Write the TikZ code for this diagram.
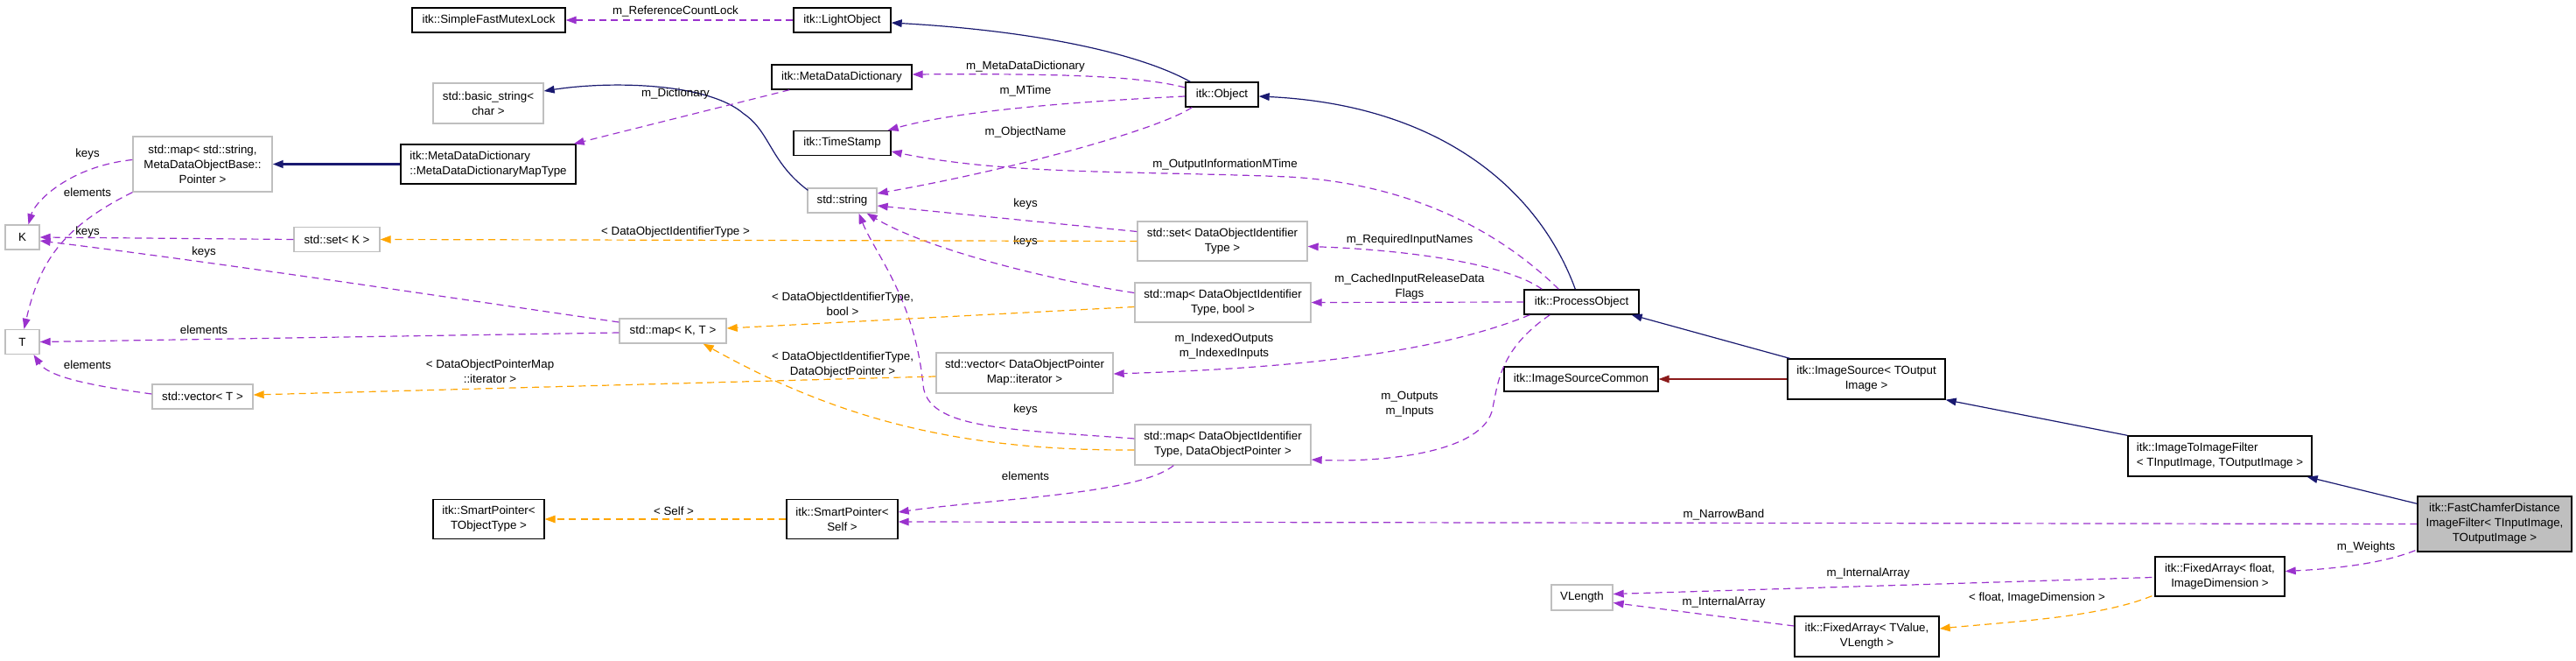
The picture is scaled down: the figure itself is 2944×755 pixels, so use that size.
\documentclass[tikz,border=0pt]{standalone}
\usepackage{fontspec}
\setmainfont{Liberation Sans}
\usetikzlibrary{arrows.meta,calc}
\definecolor{navy}{RGB}{25,25,112}
\definecolor{dred}{RGB}{139,26,26}
\definecolor{purp}{RGB}{154,50,205}
\definecolor{orng}{RGB}{255,165,0}
\definecolor{gbord}{RGB}{191,191,191}
\definecolor{gfill}{RGB}{191,191,191}
\begin{document}
\begin{tikzpicture}[x=0.75pt,y=-0.75pt,
  font=\fontsize{10pt}{12.75pt}\selectfont,
  cls/.style={draw=black, line width=1pt, fill=white, inner sep=0pt, align=center},
  ucls/.style={draw=gbord, line width=1pt, fill=white, inner sep=0pt, align=center},
  sz/.style 2 args={minimum width=#1*0.75pt, minimum height=#2*0.75pt},
  tip/.style={-{Triangle[length=9pt,width=6.5pt]}},
  inh/.style={draw=navy, line width=0.9pt, tip},
  prot/.style={draw=dred, line width=0.9pt, tip},
  use/.style={draw=purp, line width=0.9pt, dash pattern=on 6pt off 4pt, tip},
  tmpl/.style={draw=orng, line width=0.9pt, dash pattern=on 6pt off 4pt, tip},
  lbl/.style={inner sep=0pt, align=center}]
\useasboundingbox (0,0) rectangle (2944,755);

% ---------- nodes ----------
\node[cls,sz={175}{28}] (fml) at (558.5,23) {itk::SimpleFastMutexLock};
\node[cls,sz={111}{28}] (lo) at (962.5,23) {itk::LightObject};
\node[cls,sz={160}{28}] (mdd) at (962,88) {itk::MetaDataDictionary};
\node[ucls,sz={126}{46}] (bstr) at (558,118) {std::basic\_string<\\char >};
\node[cls,sz={111}{28}] (ts) at (962.5,163.5) {itk::TimeStamp};
\node[cls,sz={83}{28}] (obj) at (1396.5,108) {itk::Object};
\node[ucls,sz={159}{63}] (mapstr) at (231.5,187.5) {std::map< std::string,\\MetaDataObjectBase::\\Pointer >};
\node[cls,sz={200}{45},align=left] (mapty) at (558,187.5) {itk::MetaDataDictionary\\::MetaDataDictionaryMapType};
\node[ucls,sz={79}{28}] (str) at (962.5,229) {std::string};
\node[ucls,sz={39}{28}] (K) at (25.5,271) {K};
\node[ucls,sz={98}{28}] (setK) at (385,273.5) {std::set< K >};
\node[ucls,sz={39}{28}] (T) at (25.5,390.5) {T};
\node[ucls,sz={122}{28}] (mapKT) at (769,378) {std::map< K, T >};
\node[ucls,sz={115}{28}] (vecT) at (231.5,453) {std::vector< T >};
\node[cls,sz={127}{45}] (spT) at (558.5,593) {itk::SmartPointer<\\TObjectType >};
\node[cls,sz={127}{45}] (spS) at (962.5,593) {itk::SmartPointer<\\Self >};
\node[ucls,sz={194}{45}] (setD) at (1397,275.5) {std::set< DataObjectIdentifier\\Type >};
\node[ucls,sz={201}{45}] (mapDb) at (1397.5,345.5) {std::map< DataObjectIdentifier\\Type, bool >};
\node[ucls,sz={202}{46}] (vecD) at (1171,426) {std::vector< DataObjectPointer\\Map::iterator >};
\node[ucls,sz={201}{46}] (mapDP) at (1397.5,508) {std::map< DataObjectIdentifier\\Type, DataObjectPointer >};
\node[cls,sz={131}{28}] (po) at (1807.5,345) {itk::ProcessObject};
\node[cls,sz={176}{28}] (isc) at (1807,433) {itk::ImageSourceCommon};
\node[cls,sz={180}{46}] (is) at (2133,433) {itk::ImageSource< TOutput\\Image >};
\node[cls,sz={210}{46},align=left] (i2i) at (2537,521) {itk::ImageToImageFilter\\< TInputImage, TOutputImage >};
\node[cls,sz={176}{63},fill=gfill] (fc) at (2851,598.5) {itk::FastChamferDistance\\ImageFilter< TInputImage,\\TOutputImage >};
\node[cls,sz={148}{45}] (faf) at (2537,658.5) {itk::FixedArray< float,\\ImageDimension >};
\node[ucls,sz={70}{29}] (vl) at (1808,682.5) {VLength};
\node[cls,sz={165}{46}] (fat) at (2133.5,727) {itk::FixedArray< TValue,\\VLength >};

% ---------- inheritance ----------
\draw[inh] ($(obj.north west)+(6,0)$) .. controls (1300,60) and (1180,35) .. ($(lo.east)+(0,3)$);
\draw[inh] ($(po.north west)+(59,0)$) .. controls (1760,220) and (1650,120) .. ($(obj.east)+(0,2)$);
\draw[inh] ($(is.north west)+(3,0)$) -- ($(po.south east)+(-9,0)$);
\draw[inh] (i2i.north west) -- (is.south east);
\draw[inh] ($(fc.north west)+(0,9)$) -- ($(i2i.south east)+(-6,0)$);
\draw[inh] ($(str.north west)+(1,3)$) .. controls (880,185) and (880,150) .. (850,130) .. controls (810,95) and (700,92) .. ($(bstr.east)+(0,-14)$);
\draw[inh, line width=1.8pt] (mapty.west) -- (mapstr.east);
\draw[prot] (is.west) -- (isc.east);

% ---------- usage (purple) ----------
\draw[use] (lo.west) -- (fml.east);
\node[lbl] (l1) at (772,13) {m\_ReferenceCountLock};
\draw[use] ($(obj.west)+(0,-8)$) .. controls (1300,86) and (1200,84) .. ($(mdd.east)+(0,-3)$);
\node[lbl] (l2) at (1172,76) {m\_MetaDataDictionary};
\draw[use] ($(obj.west)+(0,2)$) .. controls (1250,115) and (1100,125) .. ($(ts.north east)+(-4,0)$);
\node[lbl] (l3) at (1172,104) {m\_MTime};
\draw[use] ($(obj.south west)+(8,0)$) .. controls (1320,150) and (1150,195) .. ($(str.east)+(0,-8)$);
\node[lbl] (l4) at (1172,151) {m\_ObjectName};
\draw[use] ($(po.north west)+(40,0)$) .. controls (1720,270) and (1620,210) .. (1472,202) .. controls (1300,195) and (1150,200) .. ($(ts.east)+(0,9.5)$);
\node[lbl] (l5) at (1400,188) {m\_OutputInformationMTime};
\draw[use] ($(mdd.south west)+(21,0)$) -- ($(mapty.north east)+(-3,0)$);
\node[lbl] (l6) at (772,107) {m\_Dictionary};
\draw[use] ($(setD.west)+(0,-11)$) -- ($(str.east)+(0,6)$);
\node[lbl] (l7) at (1172,233) {keys};
\draw[use] ($(mapDb.west)+(0,-11)$) .. controls (1200,320) and (1060,285) .. ($(str.south east)+(-12,0)$);
\node[lbl] (l8) at (1172,276) {keys};
\draw[use] ($(mapDP.west)+(0,-7)$) .. controls (1150,490) and (1060,490) .. (1055,440) .. controls (1045,340) and (1000,290) .. ($(str.south)+(19,0)$);
\node[lbl] (l9) at (1172,468) {keys};
\draw[use] ($(po.north west)+(21,0)$) .. controls (1720,300) and (1600,285) .. ($(setD.east)+(0,6)$);
\node[lbl] (l10) at (1611,274) {m\_RequiredInputNames};
\draw[use] (po.west) -- (mapDb.east);
\node[lbl] (l11) at (1611,327.5) {m\_CachedInputReleaseData\\Flags};
\draw[use] ($(po.south west)+(7,0)$) .. controls (1650,400) and (1500,420) .. ($(vecD.east)+(0,1)$);
\node[lbl] (l12) at (1399,396) {m\_IndexedOutputs\\m\_IndexedInputs};
\draw[use] ($(po.south west)+(30,0)$) .. controls (1712,400) and (1712,440) .. (1705,470) .. controls (1690,520) and (1570,528) .. ($(mapDP.east)+(0,17)$);
\node[lbl] (l13) at (1611,462) {m\_Outputs\\m\_Inputs};
\draw[use] ($(mapstr.west)+(0,-5)$) .. controls (80,190) and (40,230) .. ($(K.north)+(7,0)$);
\node[lbl] (l14) at (100,176) {keys};
\draw[use] (mapstr.south west) .. controls (70,260) and (45,300) .. ($(T.north)+(2,0)$);
\node[lbl] (l15) at (100,220) {elements};
\draw[use] (setK.west) -- (K.east);
\node[lbl] (l16) at (100,265) {keys};
\draw[use] ($(mapKT.west)+(0,-10)$) .. controls (500,338) and (250,300) .. ($(K.east)+(0,4)$);
\node[lbl] (l17) at (233,288) {keys};
\draw[use] ($(mapKT.west)+(0,2)$) -- (T.east);
\node[lbl] (l18) at (233,377) {elements};
\draw[use] ($(vecT.west)+(0,-3)$) .. controls (100,440) and (55,430) .. ($(T.south)+(13,0)$);
\node[lbl] (l19) at (100,417) {elements};
\draw[use] ($(mapDP.south west)+(45,0)$) .. controls (1300,565) and (1130,570) .. ($(spS.east)+(0,-8)$);
\node[lbl] (l20) at (1172,544) {elements};
\draw[use] (fc.west) -- ($(spS.east)+(0,3)$);
\node[lbl] (l21) at (1970,588) {m\_NarrowBand};
\draw[use] ($(fc.south west)+(-2,-2)$) .. controls (2720,645) and (2660,650) .. ($(faf.east)+(0,-6)$);
\node[lbl] (l22) at (2704,625) {m\_Weights};
\draw[use] ($(faf.west)+(-3,1)$) -- ($(vl.east)+(0,-4)$);
\node[lbl] (l23) at (2135,655) {m\_InternalArray};
\draw[use] ($(fat.west)+(0,-12)$) -- ($(vl.east)+(0,6)$);
\node[lbl] (l24) at (1970,688) {m\_InternalArray};

% ---------- template (orange) ----------
\draw[tmpl] (setD.west) -- (setK.east);
\node[lbl] (o1) at (772,265) {< DataObjectIdentifierType >};
\draw[tmpl] ($(mapDb.west)+(0,5)$) -- ($(mapKT.east)+(0,-3)$);
\node[lbl] (o2) at (963,347.5) {< DataObjectIdentifierType,\\bool >};
\draw[tmpl] ($(vecD.west)+(0,4)$) -- ($(vecT.east)+(0,-2)$);
\node[lbl] (o3) at (560,424.5) {< DataObjectPointerMap\\::iterator >};
\draw[tmpl] ($(mapDP.west)+(0,6)$) .. controls (1100,515) and (960,480) .. ($(mapKT.south east)+(-27,0)$);
\node[lbl] (o4) at (963,416.5) {< DataObjectIdentifierType,\\DataObjectPointer >};
\draw[tmpl] (spS.west) -- (spT.east);
\node[lbl] (o5) at (770,584) {< Self >};
\draw[tmpl] ($(faf.south west)+(-3,-1)$) .. controls (2400,705) and (2300,710) .. ($(fat.east)+(0,-9)$);
\node[lbl] (o6) at (2328,683) {< float, ImageDimension >};
\end{tikzpicture}
\end{document}
